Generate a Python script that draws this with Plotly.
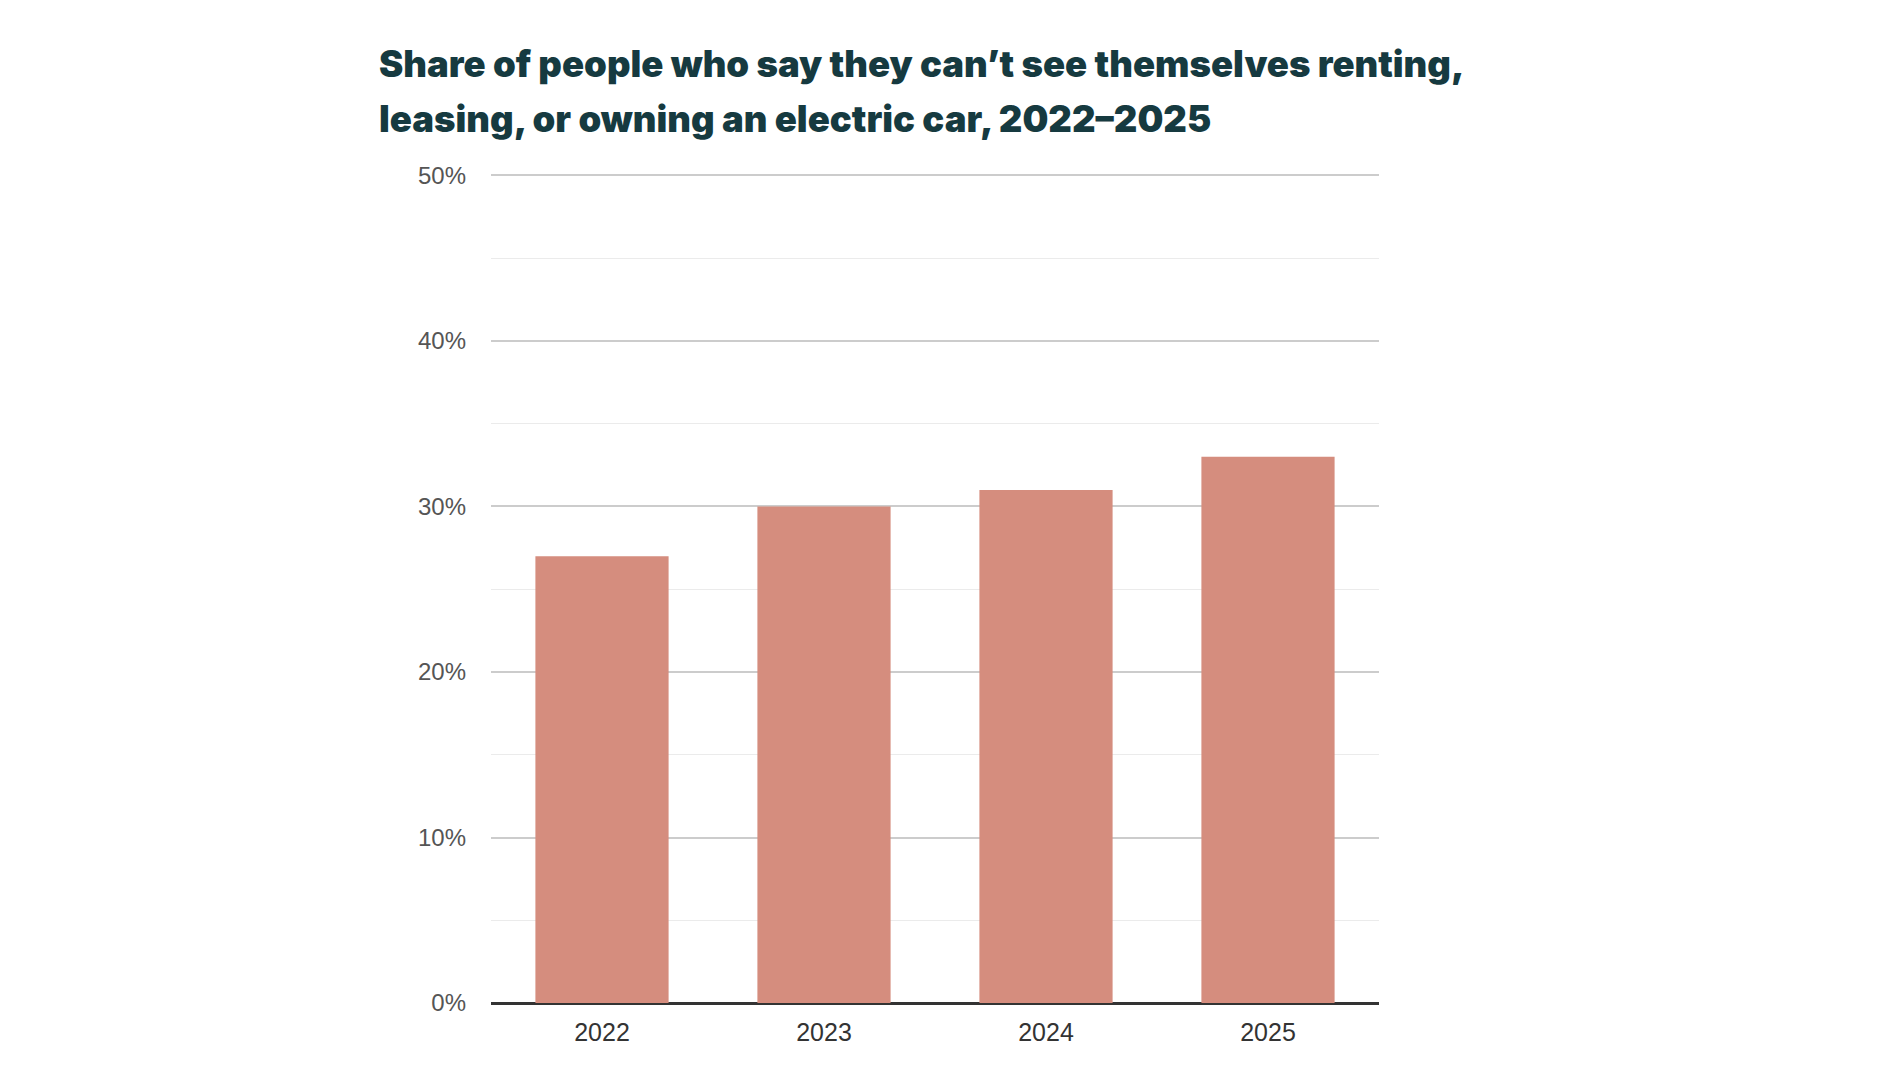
import plotly.graph_objects as go

years = ["2022", "2023", "2024", "2025"]
shares = [27, 30, 31, 33]
y_ticks = [0, 10, 20, 30, 40, 50]
y_tick_labels = ["0%", "10%", "20%", "30%", "40%", "50%"]
title_line1 = "Share of people who say they can’t see themselves renting,"
title_line2 = "leasing, or owning an electric car, 2022–2025"

W, H = 1900, 1068
L, R, T, B = 483, 529, 165, 73
plot_h = H - T - B

def paper_y(px):
    return (H - B - px) / plot_h

def paper_x(px):
    return (px - L) / (W - L - R)

fig = go.Figure(go.Bar(
    x=years, y=shares,
    marker=dict(color="#d58d7e", line=dict(width=0)),
    hoverinfo="x+y",
))

title_font = dict(family="Inter", size=36.5, color="#163a40", weight=900)
for txt, py in [(title_line1, 56), (title_line2, 111)]:
    fig.add_annotation(
        text=txt, xref="paper", yref="paper",
        x=paper_x(369), y=paper_y(py), xanchor="left", yanchor="middle",
        showarrow=False, font=title_font,
    )

fig.update_layout(
    width=W, height=H,
    margin=dict(l=L, r=R, t=T, b=B),
    paper_bgcolor="white", plot_bgcolor="white",
    bargap=0.4,
    showlegend=False,
    font=dict(family="Liberation Sans, Arial, sans-serif"),
)
fig.update_yaxes(
    range=[0, 50.15],
    tickvals=y_ticks, ticktext=y_tick_labels,
    tickfont=dict(size=24, color="#555555"),
    showgrid=True, gridcolor="#cccccc", gridwidth=1.5,
    minor=dict(dtick=5, showgrid=True, gridcolor="#ebebeb", gridwidth=1.2, ticks=""),
    zeroline=True, zerolinecolor="#333333", zerolinewidth=2,
    ticks="", ticklabelstandoff=24, showline=False,
    fixedrange=True,
)
fig.update_xaxes(
    tickfont=dict(size=25, color="#333333"),
    showline=True, linecolor="#333333", linewidth=2,
    ticks="", ticklabelstandoff=6, showgrid=False,
    fixedrange=True,
)

fig.write_html("out.html")
